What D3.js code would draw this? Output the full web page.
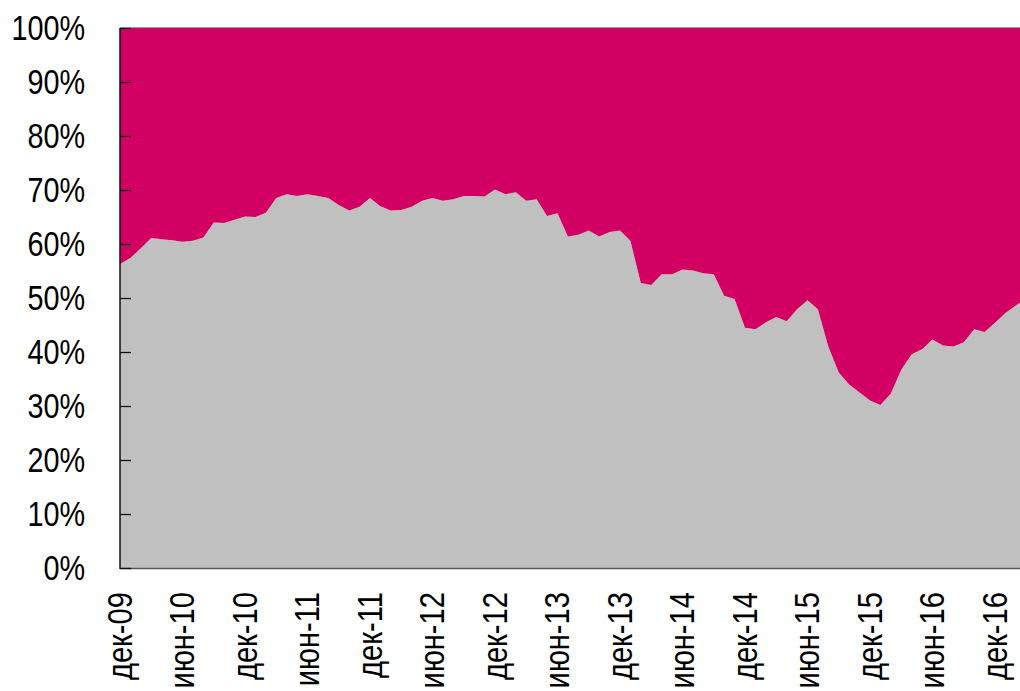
<!DOCTYPE html>
<html>
<head>
    <meta charset="utf-8">
    <title>share</title>
    <script src="https://d3js.org/d3.v7.min.js"></script>
    <style>
        body{margin:0;background:#fff;}
        text{font-family:"Liberation Sans",Arial,sans-serif;font-size:36px;fill:#000;}
    </style>
</head>
<body>
<script>
var w=1020, h=691;
var margin={left:120, right:0, top:28, bottom:123};

// доля (серая область), % по месяцам начиная с дек-09
var share=[56.3,57.4,59.2,61.1,60.9,60.7,60.4,60.6,61.2,64.0,
           63.9,64.5,65.1,65.0,65.8,68.5,69.2,68.9,69.2,68.9,
           68.5,67.2,66.2,66.9,68.5,67.0,66.2,66.3,66.9,68.0,
           68.5,68.0,68.3,68.9,68.9,68.8,70.1,69.2,69.6,68.0,
           68.3,65.2,65.7,61.4,61.7,62.5,61.4,62.2,62.5,60.6,
           52.8,52.4,54.4,54.4,55.3,55.1,54.6,54.4,50.4,49.8,
           44.5,44.2,45.5,46.5,45.7,47.9,49.6,47.9,41.0,36.2,
           34.0,32.5,31.0,30.2,32.3,36.7,39.6,40.5,42.3,41.2,
           41.0,41.8,44.2,43.7,45.4,47.2,48.6,49.9];

// подписи оси X (каждые 6 месяцев)
var tickLabels=["дек-09","июн-10","дек-10","июн-11","дек-11","июн-12","дек-12",
                "июн-13","дек-13","июн-14","дек-14","июн-15","дек-15","июн-16","дек-16"];
var yTicks=[0,10,20,30,40,50,60,70,80,90,100];

var colors={rest:"#D10062", share:"#C0C0C0"};

var rows=share.map(function(v,i){ return {i:i, share:v, rest:100-v}; });
var series=d3.stack().keys(["share","rest"])(rows);

var x=d3.scaleLinear().domain([0,86.4]).range([margin.left,w-margin.right]);
var y=d3.scaleLinear().domain([0,100]).range([h-margin.bottom,margin.top]);

var svg=d3.select("body").append("svg").attr("width",w).attr("height",h);

svg.append("clipPath").attr("id","plot")
    .append("rect")
    .attr("x",margin.left).attr("y",margin.top)
    .attr("width",w-margin.left-margin.right)
    .attr("height",h-margin.top-margin.bottom);

var area=d3.area()
    .x(function(d){ return x(d.data.i); })
    .y0(function(d){ return y(d[0]); })
    .y1(function(d){ return y(d[1]); });

svg.append("g").attr("clip-path","url(#plot)")
    .selectAll("path")
    .data(series)
    .enter()
    .append("path")
    .attr("fill",function(d){ return colors[d.key]; })
    .attr("d",area);

// рамка
svg.append("line")
    .attr("x1",margin.left).attr("x2",w)
    .attr("y1",y(100)-0.5).attr("y2",y(100)-0.5)
    .style("stroke","#999").style("stroke-width",1);
svg.append("line")
    .attr("x1",margin.left).attr("x2",w)
    .attr("y1",y(0)+0.5).attr("y2",y(0)+0.5)
    .style("stroke","#555").style("stroke-width",1.5);

// ось Y
var yAxis=svg.append("g").attr("transform","translate("+margin.left+",0)")
    .call(d3.axisRight(y).tickValues(yTicks).tickSize(11).tickFormat(""));
yAxis.select(".domain").style("stroke","#111").style("stroke-width",1.5)
    .attr("d","M0,"+y(100)+"V"+(y(0)+1));
yAxis.selectAll(".tick line").style("stroke","#111").style("stroke-width",1.3);

svg.selectAll(".ylab")
    .data(yTicks)
    .enter()
    .append("text")
    .attr("class","ylab")
    .attr("transform",function(d){ return "translate(85,"+(y(d)-1)+") scale(0.8,1)"; })
    .attr("text-anchor","end")
    .attr("dy","0.35em")
    .text(function(d){ return d+"%"; });

// ось X
svg.selectAll(".xlab")
    .data(tickLabels)
    .enter()
    .append("text")
    .attr("class","xlab")
    .attr("transform",function(d,i){ return "translate("+(x(i*6)-1)+",592) rotate(-90) scale(0.81,1)"; })
    .attr("text-anchor","end")
    .attr("dy","0.35em")
    .text(function(d){ return d; });
</script>
</body>
</html>
